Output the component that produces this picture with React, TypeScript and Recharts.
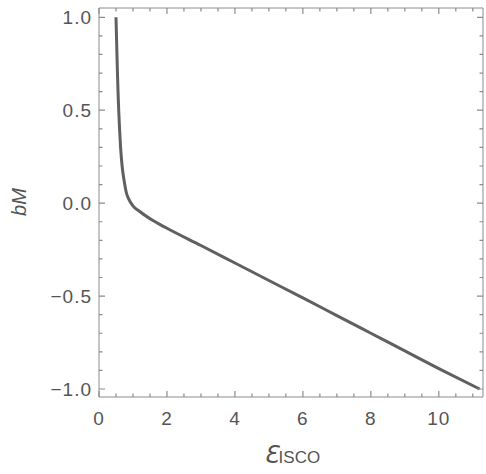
import React from "react";
import { LineChart, Line, XAxis, YAxis, ReferenceArea, Label } from "recharts";

// epsilon_ISCO vs bM
const epsIsco = [0.5, 0.52, 0.54, 0.56, 0.58, 0.605, 0.635, 0.68, 0.74, 0.8, 0.88, 0.98, 1.2, 1.6, 2.0, 3.0, 4.0, 5.0, 6.0, 7.0, 8.0, 9.0, 10.0, 11.2];
const bM = [1.0, 0.86, 0.72, 0.6, 0.5, 0.4, 0.3, 0.2, 0.12, 0.06, 0.02, -0.01, -0.045, -0.095, -0.135, -0.228, -0.322, -0.416, -0.51, -0.605, -0.7, -0.795, -0.89, -1.0];

const xTicks = [0, 0.5, 1, 1.5, 2, 2.5, 3, 3.5, 4, 4.5, 5, 5.5, 6, 6.5, 7, 7.5, 8, 8.5, 9, 9.5, 10, 10.5, 11];
const xMajor = [0, 2, 4, 6, 8, 10];
const yTicks = [-1, -0.9, -0.8, -0.7, -0.6, -0.5, -0.4, -0.3, -0.2, -0.1, 0, 0.1, 0.2, 0.3, 0.4, 0.5, 0.6, 0.7, 0.8, 0.9, 1];
const yMajor = [-1, -0.5, 0, 0.5, 1];

const data = epsIsco.map((x, i) => ({ x, y: bM[i] }));

const W = 486;
const H = 474;
const TOP = 8;
const LEFT = 99;
const RIGHT = 3;
const BOTTOM = 77;
const plotW = W - LEFT - RIGHT;
const plotH = H - TOP - BOTTOM;

const FRAME = "#8c8c8c";
const TEXT = "#555";
const FONT = "'Liberation Sans', Arial, sans-serif";

const isMajor = (v: number, list: number[]) => list.some((m) => Math.abs(m - v) < 1e-6);

function XTick(props: any) {
  const { x, y, payload } = props;
  const major = isMajor(payload.value, xMajor);
  const len = major ? 6 : 3.5;
  const d = `M${x},${y}V${y - len}M${x},${y - plotH}V${y - plotH + len}`;
  return (
    <g>
      <path d={d} stroke={FRAME} strokeWidth={1.2} fill="none" />
      {major && (
        <text x={x} y={y + 28} textAnchor="middle" fill={TEXT} fontSize={19} fontFamily={FONT} letterSpacing={1}>
          {payload.value}
        </text>
      )}
    </g>
  );
}

function YTick(props: any) {
  const { x, y, payload } = props;
  const major = isMajor(payload.value, yMajor);
  const len = major ? 6 : 3.5;
  const v = payload.value;
  const label = (v < 0 ? "\u2212" : "") + Math.abs(v).toFixed(1);
  const d = `M${x},${y}H${x + len}M${x + plotW},${y}H${x + plotW - len}`;
  return (
    <g>
      <path d={d} stroke={FRAME} strokeWidth={1.2} fill="none" />
      {major && (
        <text x={x - 7} y={y + 7} textAnchor="end" fill={TEXT} fontSize={19} fontFamily={FONT} letterSpacing={1}>
          {label}
        </text>
      )}
    </g>
  );
}

export default function App() {
  return (
    <div style={{ position: "absolute", left: 0, top: 0, background: "#fff" }}>
      <LineChart width={W} height={H} data={data} margin={{ top: TOP, right: RIGHT, left: 0, bottom: 0 }}>
        <ReferenceArea x1={0} x2={11.3} y1={-1.043} y2={1.05} fill="none" stroke={FRAME} strokeWidth={1} />
        <XAxis
          dataKey="x"
          type="number"
          domain={[0, 11.3]}
          ticks={xTicks}
          interval={0}
          allowDataOverflow
          height={BOTTOM}
          axisLine={false}
          tickLine={false}
          tickSize={0}
          tickMargin={0}
          tick={<XTick />}
        >
          <Label
            content={() => (
              <text x={292} y={463} textAnchor="middle" fill={TEXT} fontFamily={FONT}>
                <tspan fontSize={24} fontStyle="italic" fontFamily="'DejaVu Sans', sans-serif">Ɛ</tspan>
                <tspan fontSize={17}>ISCO</tspan>
              </text>
            )}
          />
        </XAxis>
        <YAxis
          dataKey="y"
          type="number"
          domain={[-1.043, 1.05]}
          ticks={yTicks}
          interval={0}
          allowDataOverflow
          width={LEFT}
          axisLine={false}
          tickLine={false}
          tickSize={0}
          tickMargin={0}
          tick={<YTick />}
        >
          <Label
            content={() => (
              <text
                x={26}
                y={202}
                transform="rotate(-90 26 202)"
                textAnchor="middle"
                fill={TEXT}
                fontSize={20}
                fontStyle="italic"
                fontFamily={FONT}
              >
                bM
              </text>
            )}
          />
        </YAxis>
        <Line
          type="monotone"
          dataKey="y"
          stroke="#606060"
          strokeWidth={3}
          dot={false}
          isAnimationActive={false}
        />
      </LineChart>
    </div>
  );
}
